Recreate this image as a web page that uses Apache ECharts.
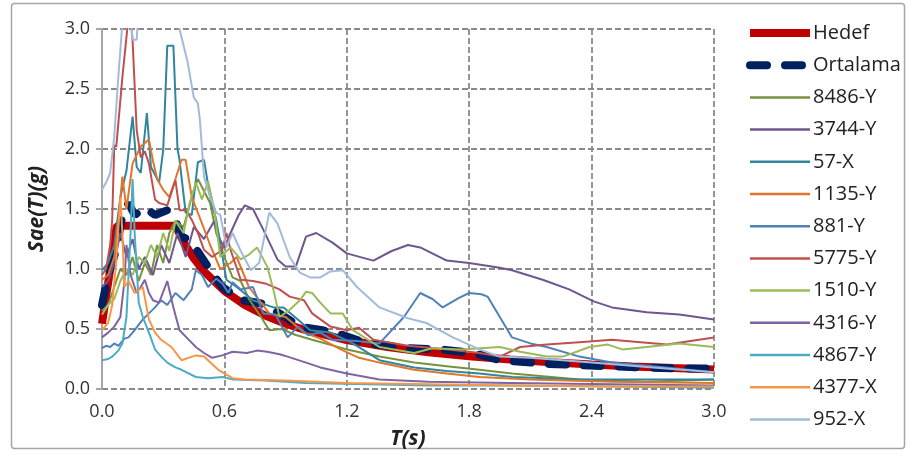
<!DOCTYPE html>
<html><head><meta charset="utf-8">
<script src="https://cdn.jsdelivr.net/npm/echarts@6/dist/echarts.min.js"></script>
<style>html,body{margin:0;padding:0;background:#fff}#c{width:915px;height:459px}</style>
</head><body><div id="c"></div>
<script>
// ---- data (T in s, Sa in g) ----
const xTicks = [0, 0.6, 1.2, 1.8, 2.4, 3.0];
const yTicks = [0, 0.5, 1.0, 1.5, 2.0, 2.5, 3.0];
const seriesNames = ['Hedef','Ortalama','8486-Y','3744-Y','57-X','1135-Y','881-Y','5775-Y','1510-Y','4316-Y','4867-Y','4377-X','952-X'];

const hedef = [[0,0.544],[0.072,1.36],[0.36,1.36],[0.4,1.225],[0.45,1.089],[0.5,0.98],[0.6,0.817],[0.7,0.70],[0.8,0.613],[0.9,0.544],[1.0,0.49],[1.2,0.408],[1.4,0.35],[1.6,0.306],[1.8,0.272],[2.0,0.245],[2.2,0.223],[2.4,0.204],[2.6,0.188],[2.8,0.175],[3.0,0.163]];
const ortalama = [[0,0.70],[0.03,0.95],[0.07,1.16],[0.1,1.45],[0.13,1.55],[0.16,1.45],[0.21,1.51],[0.26,1.45],[0.32,1.49],[0.36,1.41],[0.39,1.27],[0.43,1.24],[0.48,1.12],[0.53,0.99],[0.59,0.85],[0.64,0.79],[0.69,0.74],[0.79,0.71],[0.87,0.63],[0.97,0.52],[1.08,0.49],[1.18,0.45],[1.3,0.38],[1.4,0.36],[1.5,0.34],[1.66,0.33],[1.82,0.30],[1.95,0.24],[2.18,0.21],[2.48,0.19],[2.83,0.17],[3.0,0.17]];
const s8486Y = [[0,0.65],[0.03,0.7],[0.06,0.85],[0.09,1.0],[0.12,0.95],[0.15,1.1],[0.18,0.9],[0.21,1.05],[0.24,0.95],[0.27,1.2],[0.30,1.05],[0.33,1.3],[0.36,1.4],[0.40,1.35],[0.44,1.6],[0.47,1.75],[0.50,1.65],[0.53,1.55],[0.56,1.3],[0.60,1.1],[0.64,0.93],[0.68,0.9],[0.72,0.75],[0.78,0.6],[0.82,0.49],[0.88,0.5],[0.95,0.45],[1.03,0.41],[1.2,0.33],[1.36,0.27],[1.53,0.22],[1.69,0.19],[1.85,0.16],[2.01,0.13],[2.34,0.08],[2.67,0.06],[3.0,0.08]];
const s3744Y = [[0,0.85],[0.03,0.9],[0.06,1.05],[0.09,1.3],[0.12,1.1],[0.15,1.25],[0.18,1.0],[0.21,1.1],[0.25,0.95],[0.29,1.2],[0.33,1.05],[0.37,1.3],[0.41,1.1],[0.45,1.35],[0.5,1.25],[0.55,1.4],[0.58,1.24],[0.6,1.18],[0.63,1.3],[0.67,1.45],[0.70,1.53],[0.74,1.5],[0.79,1.33],[0.86,1.08],[0.90,1.02],[0.95,1.02],[1.0,1.27],[1.05,1.30],[1.13,1.22],[1.2,1.13],[1.33,1.07],[1.42,1.15],[1.5,1.2],[1.56,1.18],[1.69,1.07],[1.8,1.05],[1.95,1.01],[2.01,0.99],[2.16,0.91],[2.29,0.83],[2.41,0.73],[2.5,0.68],[2.67,0.64],[2.83,0.62],[3.0,0.58]];
const s57X = [[0,0.99],[0.03,1.05],[0.06,1.2],[0.09,1.6],[0.12,1.82],[0.15,2.27],[0.17,1.85],[0.19,1.8],[0.22,2.3],[0.24,1.85],[0.28,1.72],[0.30,1.99],[0.32,2.86],[0.35,2.86],[0.37,2.0],[0.38,1.91],[0.41,1.47],[0.44,1.45],[0.47,1.89],[0.50,1.91],[0.53,1.6],[0.56,1.41],[0.61,0.91],[0.66,0.85],[0.74,0.74],[0.84,0.68],[0.89,0.68],[0.96,0.58],[1.02,0.49],[1.12,0.47],[1.23,0.38],[1.36,0.24],[1.53,0.18],[1.69,0.15],[1.85,0.13],[2.01,0.10],[2.34,0.08],[3.0,0.08]];
const s1135Y = [[0,0.91],[0.03,0.95],[0.06,1.1],[0.08,1.4],[0.10,1.77],[0.12,1.5],[0.15,1.88],[0.19,2.02],[0.23,2.08],[0.25,1.9],[0.27,1.75],[0.30,1.66],[0.33,1.6],[0.36,1.75],[0.39,1.91],[0.41,1.91],[0.44,1.6],[0.49,1.38],[0.53,1.2],[0.58,1.0],[0.63,1.05],[0.66,1.1],[0.72,0.85],[0.82,0.63],[0.9,0.6],[0.99,0.47],[1.07,0.42],[1.17,0.33],[1.26,0.26],[1.36,0.22],[1.53,0.16],[1.69,0.13],[1.85,0.10],[2.1,0.08],[2.5,0.06],[3.0,0.05]];
const s881Y = [[0,0.34],[0.02,0.36],[0.04,0.35],[0.06,0.38],[0.08,0.36],[0.11,0.42],[0.13,0.43],[0.16,0.49],[0.2,0.58],[0.23,0.63],[0.26,0.68],[0.29,0.74],[0.32,0.70],[0.36,0.80],[0.40,0.74],[0.44,0.83],[0.46,0.99],[0.49,0.95],[0.52,0.85],[0.56,0.92],[0.59,0.88],[0.62,0.80],[0.64,0.89],[0.68,0.83],[0.74,0.85],[0.79,0.63],[0.85,0.62],[0.91,0.43],[0.96,0.52],[1.01,0.45],[1.07,0.47],[1.13,0.41],[1.25,0.40],[1.36,0.38],[1.48,0.60],[1.56,0.80],[1.62,0.75],[1.67,0.68],[1.75,0.76],[1.8,0.80],[1.86,0.79],[1.89,0.77],[1.95,0.60],[2.01,0.43],[2.1,0.38],[2.18,0.35],[2.34,0.27],[2.5,0.22],[2.7,0.19],[3.0,0.14]];
const s5775Y = [[0,0.95],[0.02,1.0],[0.04,1.2],[0.05,1.41],[0.06,2.03],[0.07,2.02],[0.10,2.6],[0.13,3.1],[0.14,3.1],[0.15,2.9],[0.17,2.16],[0.19,1.93],[0.21,1.98],[0.23,1.88],[0.26,1.58],[0.28,1.55],[0.32,1.53],[0.36,1.74],[0.38,1.49],[0.41,1.49],[0.44,1.41],[0.47,1.3],[0.50,1.16],[0.54,1.1],[0.59,1.16],[0.61,1.30],[0.63,1.16],[0.68,0.91],[0.74,0.9],[0.80,0.88],[0.87,0.83],[0.92,0.77],[0.99,0.74],[1.03,0.63],[1.12,0.52],[1.2,0.49],[1.26,0.51],[1.33,0.41],[1.5,0.36],[1.7,0.33],[1.85,0.30],[1.95,0.27],[2.05,0.35],[2.18,0.37],[2.34,0.39],[2.5,0.41],[2.64,0.39],[2.77,0.37],[3.0,0.43]];
const s1510Y = [[0,0.62],[0.03,0.7],[0.06,0.75],[0.09,0.9],[0.12,1.0],[0.15,0.95],[0.18,1.1],[0.21,1.05],[0.24,1.2],[0.27,1.1],[0.30,1.3],[0.33,1.15],[0.36,1.4],[0.40,1.3],[0.43,1.55],[0.46,1.72],[0.49,1.58],[0.52,1.73],[0.55,1.5],[0.58,1.1],[0.63,1.18],[0.68,1.08],[0.72,1.12],[0.76,1.18],[0.81,1.02],[0.84,0.83],[0.87,0.6],[0.92,0.66],[0.97,0.74],[1.0,0.81],[1.03,0.80],[1.07,0.72],[1.12,0.63],[1.18,0.63],[1.23,0.49],[1.36,0.35],[1.53,0.30],[1.62,0.34],[1.76,0.33],[1.95,0.35],[2.05,0.31],[2.18,0.27],[2.26,0.27],[2.39,0.35],[2.48,0.37],[2.55,0.33],[2.67,0.35],[2.83,0.38],[3.0,0.35]];
const s4316Y = [[0,0.43],[0.03,0.47],[0.06,0.52],[0.09,0.6],[0.11,0.9],[0.12,1.2],[0.14,0.95],[0.17,0.8],[0.19,0.85],[0.21,0.91],[0.23,0.8],[0.25,0.74],[0.28,0.72],[0.32,0.9],[0.35,0.68],[0.38,0.49],[0.42,0.42],[0.46,0.35],[0.50,0.3],[0.54,0.26],[0.59,0.28],[0.64,0.31],[0.71,0.30],[0.76,0.32],[0.81,0.31],[0.87,0.29],[0.91,0.27],[1.0,0.22],[1.07,0.18],[1.2,0.13],[1.36,0.08],[1.6,0.06],[2.0,0.05],[2.5,0.04],[3.0,0.03]];
const s4867Y = [[0,0.24],[0.03,0.25],[0.05,0.27],[0.08,0.32],[0.10,0.38],[0.12,0.6],[0.14,1.3],[0.15,1.75],[0.16,1.3],[0.18,0.72],[0.2,0.6],[0.23,0.47],[0.26,0.33],[0.29,0.27],[0.32,0.22],[0.36,0.18],[0.39,0.16],[0.46,0.10],[0.52,0.09],[0.59,0.1],[0.64,0.08],[0.8,0.07],[1.0,0.05],[1.3,0.04],[1.6,0.03],[2.0,0.03],[2.5,0.02],[3.0,0.01]];
const s4377X = [[0,0.49],[0.03,0.55],[0.05,0.7],[0.07,1.07],[0.09,1.6],[0.10,1.3],[0.11,0.85],[0.13,0.9],[0.16,0.8],[0.2,0.85],[0.23,0.58],[0.26,0.47],[0.29,0.41],[0.34,0.35],[0.39,0.24],[0.46,0.28],[0.5,0.27],[0.57,0.16],[0.64,0.09],[0.7,0.08],[0.9,0.07],[1.2,0.05],[1.6,0.04],[2.0,0.03],[2.5,0.02],[3.0,0.02]];
const s952X = [[0,1.66],[0.02,1.72],[0.04,1.8],[0.06,2.1],[0.08,2.6],[0.1,3.05],[0.12,3.3],[0.14,3.1],[0.15,2.91],[0.17,2.91],[0.18,3.2],[0.25,3.5],[0.33,3.3],[0.38,3.0],[0.42,2.72],[0.45,2.43],[0.47,2.38],[0.48,2.24],[0.50,1.77],[0.53,1.6],[0.56,1.47],[0.58,1.45],[0.61,1.18],[0.64,1.3],[0.68,1.15],[0.73,0.99],[0.77,1.05],[0.82,1.47],[0.86,1.38],[0.92,1.1],[0.97,0.97],[1.02,0.93],[1.07,0.93],[1.12,0.98],[1.18,0.99],[1.25,0.85],[1.36,0.68],[1.5,0.59],[1.59,0.55],[1.72,0.43],[1.85,0.33],[1.95,0.27],[2.1,0.26],[2.4,0.22],[2.7,0.18],[3.0,0.14]];

const seriesData = [hedef, ortalama, s8486Y, s3744Y, s57X, s1135Y, s881Y, s5775Y, s1510Y, s4316Y, s4867Y, s4377X, s952X];
const colors = ['#C00000','#002060','#77933C','#6F568E','#31859C','#E0762C','#4F81BD','#C0504D','#9BBB59','#8064A2','#4BACC6','#F79646','#A3BBDB'];

const FONT = 'Open Sans';
const chart = echarts.init(document.getElementById('c'), null, {renderer:'canvas'});
const series = seriesNames.map((name, i) => {
  const ls = {color: colors[i], width: 2};
  if (i === 0) { ls.width = 8; }
  if (i === 1) { ls.width = 8; ls.type = [17, 18]; ls.cap = 'round'; }
  return {
    name, type: 'line', data: seriesData[i], symbol: 'none', showSymbol: false,
    lineStyle: ls, itemStyle: {color: colors[i]}, animation: false, clip: true,
    emphasis: {disabled: true}, z: 2
  };
});

chart.setOption({
  animation: false,
  color: colors,
  grid: {left: 102, right: 201, top: 29, bottom: 70, containLabel: false},
  xAxis: {
    type: 'value', min: 0, max: 3.0, interval: 0.6,
    name: 'T(s)', nameLocation: 'middle', nameGap: 40,
    nameTextStyle: {fontFamily: FONT, fontSize: 21, fontWeight: 'bold', fontStyle: 'italic', color: '#222'},
    axisLine: {show: false}, axisTick: {show: false},
    axisLabel: {fontFamily: FONT, fontSize: 18, color: '#333', margin: 14, formatter: v => v.toFixed(1)},
    splitLine: {show: true, lineStyle: {color: '#8a8a8a', width: 1.8, type: [6, 3]}}
  },
  yAxis: {
    type: 'value', min: 0, max: 3.0, interval: 0.5,
    name: 'Sae(T)(g)', nameLocation: 'middle', nameGap: 54, nameRotate: 90,
    nameTextStyle: {fontFamily: FONT, fontSize: 21, fontWeight: 'bold', fontStyle: 'italic', color: '#222'},
    axisLine: {show: true, lineStyle: {color: '#a6a6a6', width: 2}},
    axisTick: {show: true, length: 6, inside: false, lineStyle: {color: '#a6a6a6', width: 2}},
    axisLabel: {fontFamily: FONT, fontSize: 18, color: '#333', margin: 12, formatter: v => v.toFixed(1)},
    splitLine: {show: true, lineStyle: {color: '#8a8a8a', width: 1.8, type: [6, 3]}}
  },
  legend: {
    orient: 'vertical', left: 746, top: 23, padding: 0,
    itemWidth: 60, itemHeight: 14, itemGap: 12.2,
    textStyle: {fontFamily: FONT, fontSize: 20, color: '#222', padding: [0,0,0,-2]},
    itemStyle: {opacity: 0},
    data: seriesNames.map((n, i) => i === 0 ? {name: n, lineStyle: {width: 8}, itemStyle: {opacity: 0}} :
      i === 1 ? {name: n, lineStyle: {width: 8, type: [17, 18], cap: 'round'}, itemStyle: {opacity: 0}} :
      {name: n, lineStyle: {width: 2.5}, itemStyle: {opacity: 0}}),
    selectedMode: false
  },
  graphic: [{type: 'rect', shape: {x: 11.5, y: 3.5, width: 893, height: 445, r: 3}, style: {fill: 'none', stroke: '#a6a6a6', lineWidth: 1.5}, silent: true}],
  series
});
</script></body></html>
